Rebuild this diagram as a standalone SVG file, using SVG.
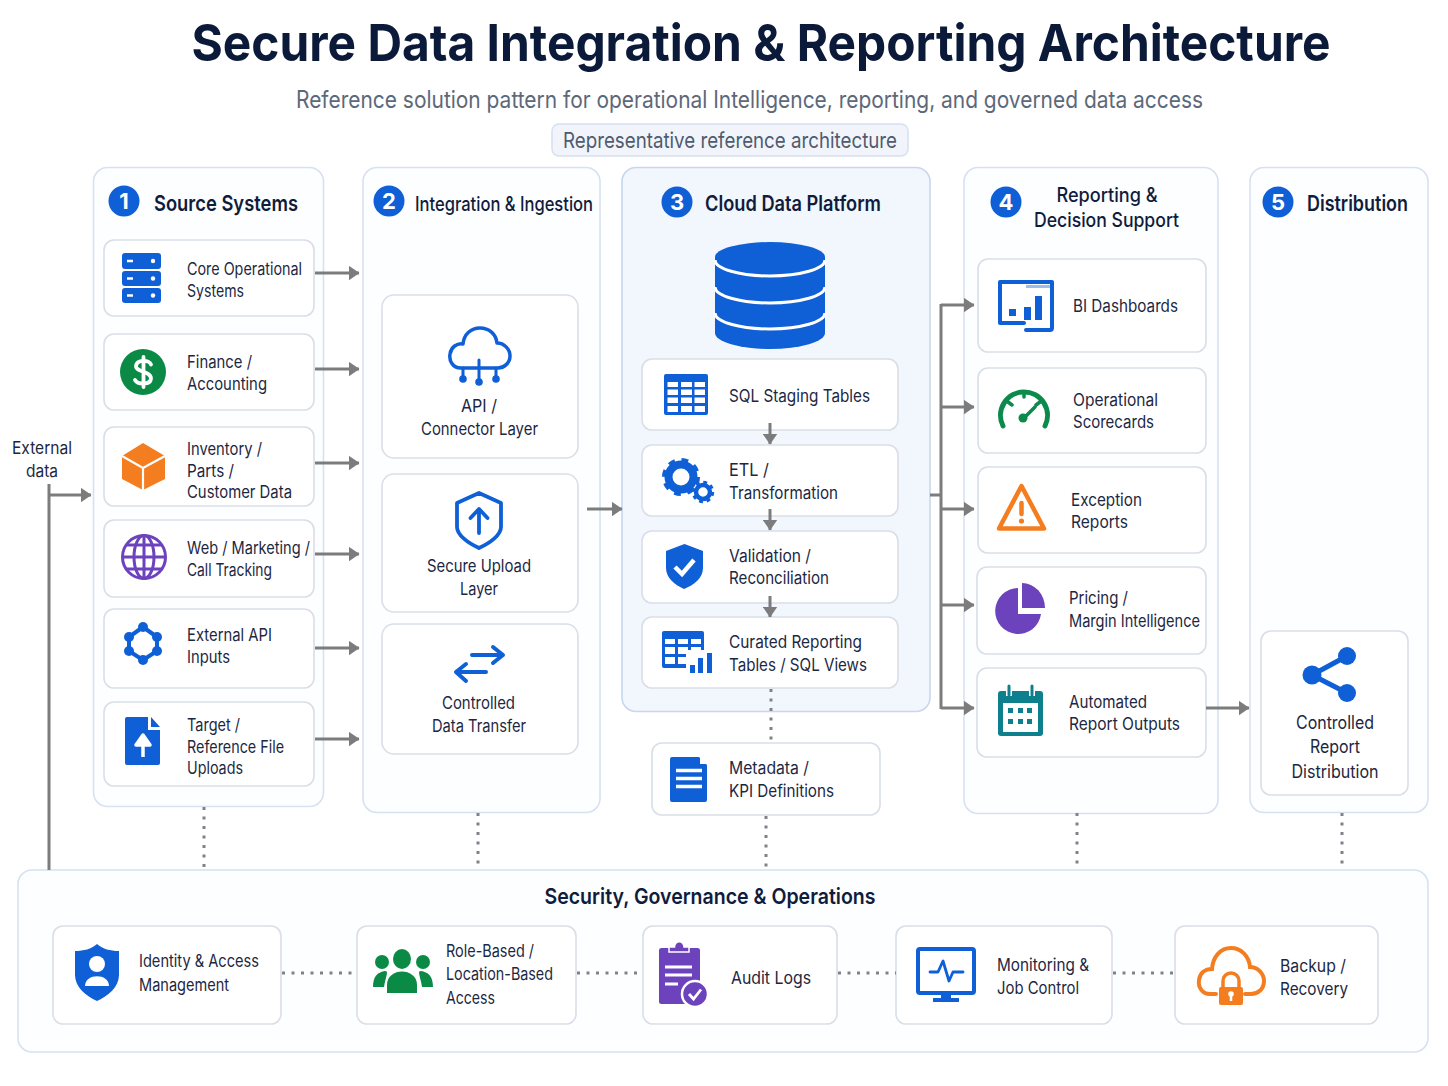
<svg xmlns="http://www.w3.org/2000/svg" width="1448" height="1086" viewBox="0 0 1448 1086">
<style>
text{font-family:"Inter","Roboto","Liberation Sans",sans-serif;fill:#1c2742}
.t{font-size:17px}
.c{text-anchor:middle}
.h{font-weight:600;fill:#101c3c}
.panel{fill:#fdfeff;stroke:#d6e1f1;stroke-width:1.6}
.card{fill:#fff;stroke:#d9dee8;stroke-width:1.6}
.num{font-size:22px;font-weight:700;fill:#fff;text-anchor:middle}
.b{fill:#0f5fd6}
.sb{fill:none;stroke:#0f5fd6;stroke-linecap:round;stroke-linejoin:round}
.w{fill:#fff}
.flow{fill:none;stroke:#7c7c7c;stroke-width:3}
.dot{fill:none;stroke:#7f8289;stroke-width:3;stroke-dasharray:3 6.5}
</style>
<defs>
<marker id="ah" markerUnits="userSpaceOnUse" markerWidth="11" markerHeight="15" refX="10.500" refY="7.500" orient="auto"><path d="M0,0L11,7.500L0,15Z" fill="#7c7c7c"/></marker>
</defs>
<rect width="1448" height="1086" fill="#fff"/>
<g id="header">
<text x="761" y="61" class="c" font-size="51" font-weight="700" style="fill:#0c1a3a" textLength="1139" lengthAdjust="spacingAndGlyphs">Secure Data Integration &amp; Reporting Architecture</text>
<text x="749.5" y="108" class="c" font-size="24" style="fill:#5d6879" textLength="907" lengthAdjust="spacingAndGlyphs">Reference solution pattern for operational Intelligence, reporting, and governed data access</text>
<rect x="552" y="124" width="356" height="32" rx="7" fill="#f1f5fb" stroke="#d6e0ef" stroke-width="1.5"/>
<text x="730" y="148" class="c" font-size="22" style="fill:#4f5b6e" textLength="334" lengthAdjust="spacingAndGlyphs">Representative reference architecture</text>
</g>

<g id="panels">
<rect id="panel-1" class="panel" x="93.500" y="167.500" width="230" height="639" rx="14"/>
<rect id="panel-2" class="panel" x="363" y="167.500" width="237" height="645" rx="14"/>
<rect id="panel-3" x="622" y="167.500" width="308" height="544" rx="14" fill="#f2f6fd" stroke="#c6d7ef" stroke-width="1.6"/>
<rect id="panel-4" class="panel" x="964" y="167.500" width="254" height="646" rx="14"/>
<rect id="panel-5" class="panel" x="1250" y="167.500" width="178" height="645" rx="14"/>
<rect id="panel-6" class="panel" x="18" y="870" width="1410" height="182" rx="14"/>
</g>

<g id="external-data">
<text class="t c" x="42" y="454" textLength="60" lengthAdjust="spacingAndGlyphs">External</text>
<text class="t c" x="42" y="477" textLength="32" lengthAdjust="spacingAndGlyphs">data</text>
</g>

<g id="head-1"><circle class="b" cx="124" cy="201" r="15.500"/><text class="num" x="124" y="209">1</text><text class="h" x="154" y="211" font-size="22" textLength="144" lengthAdjust="spacingAndGlyphs">Source Systems</text></g>
<g id="head-2"><circle class="b" cx="389" cy="201" r="15.500"/><text class="num" x="389" y="209">2</text><text class="h" x="415" y="211" font-size="20" textLength="178" lengthAdjust="spacingAndGlyphs" style="font-weight:500">Integration &amp; Ingestion</text></g>
<g id="head-3"><circle class="b" cx="677" cy="202" r="15.500"/><text class="num" x="677" y="210">3</text><text class="h" x="705" y="211" font-size="21" textLength="176" lengthAdjust="spacingAndGlyphs">Cloud Data Platform</text></g>
<g id="head-4"><circle class="b" cx="1006" cy="202" r="15.500"/><text class="num" x="1006" y="210">4</text><text class="h c" x="1107" y="202" font-size="20" textLength="101" lengthAdjust="spacingAndGlyphs" style="font-weight:500">Reporting &amp;</text><text class="h c" x="1106.500" y="227" font-size="20" textLength="145" lengthAdjust="spacingAndGlyphs" style="font-weight:500">Decision Support</text></g>
<g id="head-5"><circle class="b" cx="1278" cy="202" r="15.500"/><text class="num" x="1278" y="210">5</text><text class="h" x="1307" y="211" font-size="21" textLength="101" lengthAdjust="spacingAndGlyphs">Distribution</text></g>

<g id="core-operational"><rect class="card" x="104" y="240" width="210" height="76" rx="10"/>
<rect class="b" x="122" y="253" width="39" height="16" rx="3"/><rect class="b" x="122" y="271" width="39" height="15" rx="3"/><rect class="b" x="122" y="288" width="39" height="15" rx="3"/>
<path d="M127,261h6M127,278.500h6M127,295.500h6" stroke="#fff" stroke-width="2.500"/><circle class="w" cx="153" cy="261" r="2.200"/><circle class="w" cx="153" cy="278.500" r="2.200"/><circle class="w" cx="153" cy="295.500" r="2.200"/>
<text class="t" x="187" y="275" textLength="115" lengthAdjust="spacingAndGlyphs">Core Operational</text><text class="t" x="187" y="297" textLength="57" lengthAdjust="spacingAndGlyphs">Systems</text></g>

<g id="finance"><rect class="card" x="104" y="334" width="210" height="76" rx="10"/>
<circle cx="143" cy="372" r="23" fill="#0a8a45"/>
<path d="M151,364.500C149,360 137,359 136,366C135.500,372 151,371 151,378.500C150.500,385 138,385 135,380M143.500,357V387" fill="none" stroke="#fff" stroke-width="3.800" stroke-linecap="round"/>
<text class="t" x="187" y="368" textLength="65" lengthAdjust="spacingAndGlyphs">Finance /</text><text class="t" x="187" y="390" textLength="80" lengthAdjust="spacingAndGlyphs">Accounting</text></g>

<g id="inventory"><rect class="card" x="104" y="427" width="210" height="79" rx="10"/>
<path d="M143,443L165,456V479L143,490L122,479V456Z" fill="#f47d20"/><path d="M122,456L143,468L165,456M143,468V490" fill="none" stroke="#fff" stroke-width="2.200"/>
<text class="t" x="187" y="455" textLength="75" lengthAdjust="spacingAndGlyphs">Inventory /</text><text class="t" x="187" y="477" textLength="47" lengthAdjust="spacingAndGlyphs">Parts /</text><text class="t" x="187" y="498" textLength="105" lengthAdjust="spacingAndGlyphs">Customer Data</text></g>

<g id="web-marketing"><rect class="card" x="104" y="520" width="210" height="77" rx="10"/>
<g fill="none" stroke="#6c42bd" stroke-width="3"><circle cx="144" cy="557" r="21.500"/><ellipse cx="144" cy="557" rx="10" ry="21.500"/><path d="M144,535V579M123,557H166M126,545H162M126,569H162"/></g>
<text class="t" x="187" y="554" textLength="123" lengthAdjust="spacingAndGlyphs">Web / Marketing /</text><text class="t" x="187" y="576" textLength="85" lengthAdjust="spacingAndGlyphs">Call Tracking</text></g>

<g id="external-api"><rect class="card" x="104" y="609" width="210" height="79" rx="10"/>
<path class="sb" stroke-width="4" d="M143,627L157,637V651L143,660L129,651V637Z"/>
<g class="b"><circle cx="143" cy="627" r="5"/><circle cx="157" cy="637" r="5"/><circle cx="157" cy="651" r="5"/><circle cx="143" cy="660" r="5"/><circle cx="129" cy="651" r="5"/><circle cx="129" cy="637" r="5"/></g>
<text class="t" x="187" y="641" textLength="85" lengthAdjust="spacingAndGlyphs">External API</text><text class="t" x="187" y="663" textLength="43" lengthAdjust="spacingAndGlyphs">Inputs</text></g>

<g id="target-uploads"><rect class="card" x="104" y="702" width="210" height="84" rx="10"/>
<path class="b" d="M127,717H148V730H160V763Q160,765 158,765H127Q125,765 125,763V719Q125,717 127,717Z"/><path class="b" d="M151,717L160,727H151Z"/><path d="M143,757V741M136,745L143,735L150,745Z" fill="#fff" stroke="#fff" stroke-width="3.500" stroke-linejoin="round"/>
<text class="t" x="187" y="731" textLength="53" lengthAdjust="spacingAndGlyphs">Target /</text><text class="t" x="187" y="753" textLength="97" lengthAdjust="spacingAndGlyphs">Reference File</text><text class="t" x="187" y="774" textLength="56" lengthAdjust="spacingAndGlyphs">Uploads</text></g>

<g id="api-connector"><rect class="card" x="382" y="295" width="196" height="163" rx="12"/>
<path class="sb" stroke-width="3.500" d="M461,368C452,368 449,360 450,354C451,347 457,343 463,344C464,334 471,328 480,328C489,328 496,334 497,343C504,343 510,349 510,356C510,363 504,368 498,368Z"/>
<path class="sb" stroke-width="3" d="M463,368V378M479,360V380M496,368V378"/><circle class="b" cx="463" cy="379" r="3.800"/><circle class="b" cx="479" cy="382" r="3.800"/><circle class="b" cx="496" cy="379" r="3.800"/>
<text class="t c" x="479" y="412" textLength="36" lengthAdjust="spacingAndGlyphs">API /</text><text class="t c" x="479.500" y="435" textLength="117" lengthAdjust="spacingAndGlyphs">Connector Layer</text></g>

<g id="secure-upload"><rect class="card" x="382" y="474" width="196" height="138" rx="12"/>
<path class="sb" stroke-width="3.800" d="M479,493L501,503V527C501,535 490,543 479,548C468,543 457,535 457,527V503Z"/><path class="sb" stroke-width="3.800" d="M479,533V510M470.500,518L479,509L487.500,518"/>
<text class="t c" x="479" y="572" textLength="104" lengthAdjust="spacingAndGlyphs">Secure Upload</text><text class="t c" x="479" y="595" textLength="38" lengthAdjust="spacingAndGlyphs">Layer</text></g>

<g id="data-transfer"><rect class="card" x="382" y="624" width="196" height="130" rx="12"/>
<path class="sb" stroke-width="4" d="M472,655H502M493,647L503,655L493,663M486,672H457M466,664L456,672L466,681"/>
<text class="t c" x="478.500" y="709" textLength="73" lengthAdjust="spacingAndGlyphs">Controlled</text><text class="t c" x="479" y="732" textLength="94" lengthAdjust="spacingAndGlyphs">Data Transfer</text></g>

<g id="database">
<path class="b" d="M715,257A55,15 0 0 1 825,257V333A55,16 0 0 1 715,333Z"/>
<path d="M715,260A55,16 0 0 0 825,260M715,287A55,16 0 0 0 825,287M715,313A55,16 0 0 0 825,313" fill="none" stroke="#fff" stroke-width="3"/>
</g>

<g id="sql-staging"><rect class="card" x="642" y="359" width="256" height="71" rx="10"/>
<rect class="b" x="664" y="374" width="44" height="41" rx="2"/>
<path d="M667.500,382h10.500v5h-10.500zM681,382h11v5h-11zM694.500,382h10.500v5h-10.500zM667.500,389.500h10.500v5.500h-10.500zM681,389.500h11v5.500h-11zM694.500,389.500h10.500v5.500h-10.500zM667.500,397.500h10.500v5.500h-10.500zM681,397.500h11v5.500h-11zM694.500,397.500h10.500v5.500h-10.500zM667.500,406h10.500v6h-10.500zM681,406h11v6h-11zM694.500,406h10.500v6h-10.500z" fill="#fff"/>
<text class="t" x="729" y="402" textLength="141" lengthAdjust="spacingAndGlyphs">SQL Staging Tables</text></g>

<g id="etl"><rect class="card" x="642" y="445" width="256" height="71" rx="10"/>
<g fill="none" stroke="#0f5fd6"><circle cx="681" cy="477" r="12.500" stroke-width="8"/><circle cx="681" cy="477" r="16.500" stroke-width="5" stroke-dasharray="6.500 6.460"/><circle cx="703" cy="492" r="7" stroke-width="4.500"/><circle cx="703" cy="492" r="9.500" stroke-width="3.500" stroke-dasharray="3.700 3.760"/></g>
<text class="t" x="729" y="476" textLength="40" lengthAdjust="spacingAndGlyphs">ETL /</text><text class="t" x="729" y="499" textLength="109" lengthAdjust="spacingAndGlyphs">Transformation</text></g>

<g id="validation"><rect class="card" x="642" y="531" width="256" height="72" rx="10"/>
<path class="b" d="M684.500,544L703,551V568C703,578 694,585 684,589C675,585 666,578 666,568V551Z"/><path d="M675,567L682,574L694,560" fill="none" stroke="#fff" stroke-width="4.500"/>
<text class="t" x="729" y="562" textLength="82" lengthAdjust="spacingAndGlyphs">Validation /</text><text class="t" x="729" y="584" textLength="100" lengthAdjust="spacingAndGlyphs">Reconciliation</text></g>

<g id="curated"><rect class="card" x="642" y="617" width="256" height="71" rx="10"/>
<rect class="b" x="662" y="631" width="42" height="37" rx="2"/>
<path d="M665,639h10v5h-10zM678,639h10v5h-10zM691,639h10v5h-10zM665,647h10v7h-10zM678,647h10v7h-10zM691,647h10v7h-10zM665,657h10v7h-10zM678,657h10v7h-10z" fill="#fff"/>
<rect x="686" y="650" width="30" height="26" fill="#fff"/>
<path class="b" d="M690,665h5v8h-5zM698,658h5v15h-5zM707,653h5v20h-5z"/>
<text class="t" x="729" y="648" textLength="133" lengthAdjust="spacingAndGlyphs">Curated Reporting</text><text class="t" x="729" y="671" textLength="138" lengthAdjust="spacingAndGlyphs">Tables / SQL Views</text></g>

<g id="metadata"><rect class="card" x="652" y="743" width="228" height="72" rx="10"/>
<path class="b" d="M672,757H699L707,765V800Q707,802 705,802H672Q670,802 670,800V759Q670,757 672,757Z"/><path d="M700,757L707,764H700Z" fill="#fff"/><path d="M676,770.500H702M676,778.500H702M676,786.500H702" stroke="#fff" stroke-width="3.500"/>
<text class="t" x="729" y="774" textLength="80" lengthAdjust="spacingAndGlyphs">Metadata /</text><text class="t" x="729" y="797" textLength="105" lengthAdjust="spacingAndGlyphs">KPI Definitions</text></g>

<g id="bi-dashboards"><rect class="card" x="978" y="259" width="228" height="93" rx="10"/>
<path class="sb" stroke-width="4" d="M1024,323H1000V282H1052V328Q1052,330 1050,330H1026"/><path d="M1026,285h24v3h-24z" fill="#9dbdea"/>
<path class="b" d="M1009,309h7v7h-7zM1024,307h7v13h-7zM1035,296h7v24h-7z"/>
<text class="t" x="1073" y="312" textLength="105" lengthAdjust="spacingAndGlyphs">BI Dashboards</text></g>

<g id="scorecards"><rect class="card" x="978" y="368" width="228" height="85" rx="10"/>
<path d="M1003,426A23.500,23.500 0 1 1 1045,426" fill="none" stroke="#0c8a4b" stroke-width="5" stroke-linecap="round"/>
<path d="M1024,392V397M1008,402L1012,405M1040,402L1036,405M1024,418L1035,407" fill="none" stroke="#0c8a4b" stroke-width="3.500" stroke-linecap="round"/><circle cx="1023" cy="418" r="4.500" fill="#0c8a4b"/>
<text class="t" x="1073" y="406" textLength="85" lengthAdjust="spacingAndGlyphs">Operational</text><text class="t" x="1073" y="428" textLength="81" lengthAdjust="spacingAndGlyphs">Scorecards</text></g>

<g id="exception"><rect class="card" x="978" y="467" width="228" height="86" rx="10"/>
<path d="M1021.500,486L1044,528.500H999Z" fill="none" stroke="#f47d20" stroke-width="4.500" stroke-linejoin="round"/><path d="M1021.500,503V514" stroke="#f47d20" stroke-width="4.500" stroke-linecap="round"/><circle cx="1021.500" cy="521" r="2.600" fill="#f47d20"/>
<text class="t" x="1071" y="506" textLength="71" lengthAdjust="spacingAndGlyphs">Exception</text><text class="t" x="1071" y="528" textLength="57" lengthAdjust="spacingAndGlyphs">Reports</text></g>

<g id="pricing"><rect class="card" x="977" y="567" width="229" height="87" rx="10"/>
<path d="M1018,588V614H1041A23,23 0 1 1 1018,588Z" fill="#6c42bd"/><path d="M1022,583A23,25 0 0 1 1045,608H1022Z" fill="#6c42bd"/>
<text class="t" x="1069" y="604" textLength="59" lengthAdjust="spacingAndGlyphs">Pricing /</text><text class="t" x="1069" y="627" textLength="131" lengthAdjust="spacingAndGlyphs">Margin Intelligence</text></g>

<g id="report-outputs"><rect class="card" x="977" y="668" width="229" height="89" rx="10"/>
<rect x="998" y="691" width="45" height="45" rx="3" fill="#0e7f8c"/><rect x="1003" y="703" width="35" height="29" fill="#fff"/>
<path d="M1009,686V696M1032,686V696" stroke="#fff" stroke-width="6"/><path d="M1009,686V695M1032,686V695" stroke="#0e7f8c" stroke-width="3" stroke-linecap="round"/>
<path d="M1008,708h5v5h-5zM1018,708h5v5h-5zM1027,708h5v5h-5zM1008,719h5v5h-5zM1018,719h5v5h-5zM1027,719h5v5h-5z" fill="#0e7f8c"/>
<text class="t" x="1069" y="708" textLength="78" lengthAdjust="spacingAndGlyphs">Automated</text><text class="t" x="1069" y="730" textLength="111" lengthAdjust="spacingAndGlyphs">Report Outputs</text></g>

<g id="report-distribution"><rect class="card" x="1261" y="631" width="147" height="164" rx="10"/>
<path class="sb" stroke-width="5" d="M1347,656L1312,675L1347,693"/><circle class="b" cx="1347" cy="656" r="9"/><circle class="b" cx="1312" cy="675" r="9.500"/><circle class="b" cx="1347" cy="693" r="9"/>
<text class="c" x="1335" y="729" font-size="18" textLength="78" lengthAdjust="spacingAndGlyphs">Controlled</text><text class="c" x="1335" y="753" font-size="18" textLength="50" lengthAdjust="spacingAndGlyphs">Report</text><text class="c" x="1335" y="778" font-size="18" textLength="87" lengthAdjust="spacingAndGlyphs">Distribution</text></g>

<g id="security-head"><text class="h c" x="710" y="904" font-size="22" textLength="331" lengthAdjust="spacingAndGlyphs">Security, Governance &amp; Operations</text></g>

<g id="identity"><rect class="card" x="53" y="926" width="228" height="98" rx="10"/>
<path class="b" d="M97,944C103,949 110,951 119,951V975C119,987 108,996 97,1001C86,996 75,987 75,975V951C84,951 91,949 97,944Z"/><circle class="w" cx="97" cy="964" r="8"/><path class="w" d="M85,986C85,973 109,973 109,986Z"/>
<text class="t" x="139" y="967" textLength="120" lengthAdjust="spacingAndGlyphs">Identity &amp; Access</text><text class="t" x="139" y="991" textLength="90" lengthAdjust="spacingAndGlyphs">Management</text></g>

<g id="role-access"><rect class="card" x="357" y="926" width="219" height="98" rx="10"/>
<g fill="#0a8a45"><ellipse cx="402" cy="959" rx="9" ry="10"/><circle cx="382" cy="962" r="7"/><circle cx="423" cy="962" r="7"/><path d="M387,993V985C387,967 417,967 417,985V993Z"/><path d="M373,987C373,976 378,972 385,971C389,971 386,975 384,987Z"/><path d="M433,987C433,976 428,972 421,971C417,971 420,975 422,987Z"/></g>
<text class="t" x="446" y="957" textLength="88" lengthAdjust="spacingAndGlyphs">Role-Based /</text><text class="t" x="446" y="980" textLength="107" lengthAdjust="spacingAndGlyphs">Location-Based</text><text class="t" x="446" y="1004" textLength="49" lengthAdjust="spacingAndGlyphs">Access</text></g>

<g id="audit-logs"><rect class="card" x="643" y="926" width="194" height="98" rx="10"/>
<rect x="659" y="948" width="41" height="56" rx="2.500" fill="#6c42bd"/><path d="M669,952V947H674.500A4.500,5 0 0 1 684,947H689V952Z" fill="#6c42bd" stroke="#fff" stroke-width="1.500"/>
<path d="M665,967H692M665,975H692M665,984H678" stroke="#fff" stroke-width="3"/>
<circle cx="695" cy="994" r="13" fill="#6c42bd" stroke="#fff" stroke-width="2.500"/><path d="M689,994L693.500,999L701,989.500" fill="none" stroke="#fff" stroke-width="2.800"/>
<text class="t" x="731" y="984" textLength="80" lengthAdjust="spacingAndGlyphs">Audit Logs</text></g>

<g id="monitoring"><rect class="card" x="896" y="926" width="216" height="98" rx="10"/>
<rect x="918" y="949" width="56" height="44" rx="2" fill="none" stroke="#0f5fd6" stroke-width="4"/><path class="b" d="M941,993h10v6h-10zM933,998h26v4h-26z"/>
<path class="sb" stroke-width="2.800" d="M930,972H938L943,961L949,981L953,972H963"/>
<text class="t" x="997" y="971" textLength="92" lengthAdjust="spacingAndGlyphs">Monitoring &amp;</text><text class="t" x="997" y="994" textLength="82" lengthAdjust="spacingAndGlyphs">Job Control</text></g>

<g id="backup"><rect class="card" x="1175" y="926" width="203" height="98" rx="10"/>
<path d="M1216,994H1210C1202,994 1198,987 1199,980C1200,973 1205,969 1212,969C1213,956 1221,948 1231,948C1241,948 1249,956 1250,967C1258,967 1264,974 1264,981C1264,989 1258,994 1251,994H1245" fill="none" stroke="#f47d20" stroke-width="4" stroke-linecap="round"/>
<path d="M1223,988V981A8,8 0 0 1 1239,981V988" fill="none" stroke="#f47d20" stroke-width="3.500"/><rect x="1219" y="987" width="24" height="18" rx="2" fill="#f47d20"/><circle class="w" cx="1231" cy="994" r="2.800"/><path d="M1231,994V1001" stroke="#fff" stroke-width="2.500"/>
<text class="t" x="1280" y="972" textLength="66" lengthAdjust="spacingAndGlyphs">Backup /</text><text class="t" x="1280" y="995" textLength="68" lengthAdjust="spacingAndGlyphs">Recovery</text></g>

<g id="connectors">
<path class="flow" marker-end="url(#ah)" d="M315,273H359"/>
<path class="flow" marker-end="url(#ah)" d="M315,369H359"/>
<path class="flow" marker-end="url(#ah)" d="M315,463H359"/>
<path class="flow" marker-end="url(#ah)" d="M315,554H359"/>
<path class="flow" marker-end="url(#ah)" d="M315,648H359"/>
<path class="flow" marker-end="url(#ah)" d="M315,739H359"/>
<path class="flow" d="M49,484V870"/>
<path class="flow" marker-end="url(#ah)" d="M49,495H91"/>
<path class="flow" marker-end="url(#ah)" d="M587,509H622"/>
<path class="flow" marker-end="url(#ah)" d="M770,423V444"/>
<path class="flow" marker-end="url(#ah)" d="M770,509V530"/>
<path class="flow" marker-end="url(#ah)" d="M770,596V617"/>
<path class="flow" d="M930,495H941"/>
<path class="flow" d="M941,304V709"/>
<path class="flow" marker-end="url(#ah)" d="M941,305H974"/>
<path class="flow" marker-end="url(#ah)" d="M941,407H974"/>
<path class="flow" marker-end="url(#ah)" d="M941,509H974"/>
<path class="flow" marker-end="url(#ah)" d="M941,605H974"/>
<path class="flow" marker-end="url(#ah)" d="M941,708H974"/>
<path class="flow" marker-end="url(#ah)" d="M1206,708H1249"/>
<path class="dot" d="M771,689V742"/>
<path class="dot" d="M766,816V870"/>
<path class="dot" d="M204,807V870"/>
<path class="dot" d="M478,813V870"/>
<path class="dot" d="M1077,813V870"/>
<path class="dot" d="M1342,813V870"/>
<path class="dot" d="M282,973H357"/>
<path class="dot" d="M577,973H643"/>
<path class="dot" d="M838,973H896"/>
<path class="dot" d="M1113,973H1175"/>
</g>
</svg>
